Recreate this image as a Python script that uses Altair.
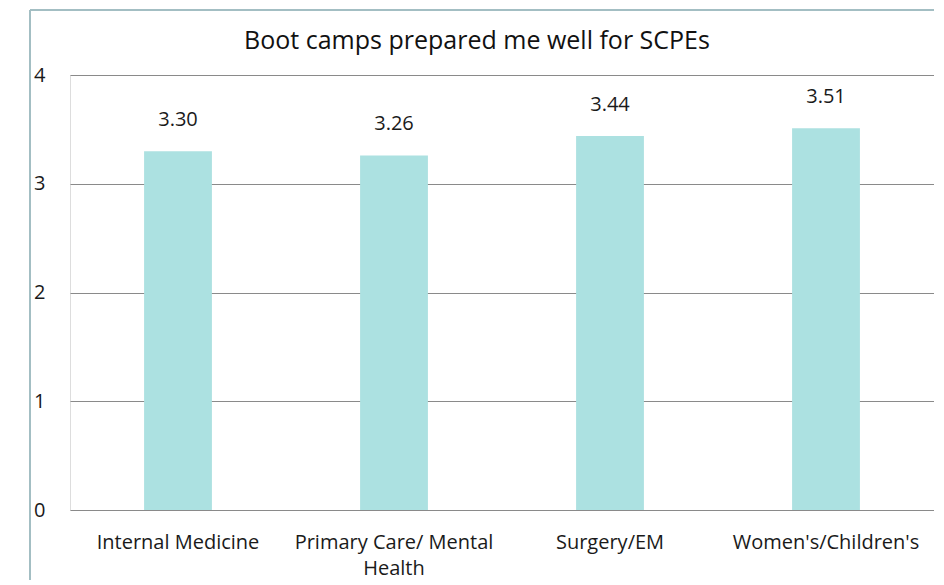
import altair as alt
import pandas as pd

categories = ["Internal Medicine", "Primary Care/ Mental Health", "Surgery/EM", "Women's/Children's"]
values = [3.30, 3.26, 3.44, 3.51]
y_ticks = [0, 1, 2, 3, 4]

df = pd.DataFrame({"category": categories, "value": values})

FONT = "Open Sans"

label_expr = (
    "datum.value == 'Primary Care/ Mental Health' ? ['Primary Care/ Mental', 'Health'] : datum.value"
)

x = alt.X(
    "category:N",
    sort=categories,
    title=None,
    scale=alt.Scale(paddingInner=0.686, paddingOuter=0.343),
    axis=alt.Axis(
        labelAngle=0,
        labelExpr=label_expr,
        labelFont=FONT,
        labelFontSize=20,
        labelColor="#1a1a1a",
        labelPadding=22,
        labelLineHeight=26,
        labelLimit=0,
        ticks=False,
        domain=False,
        grid=False,
    ),
)
y = alt.Y(
    "value:Q",
    title=None,
    scale=alt.Scale(domain=[0, 4], nice=False),
    axis=alt.Axis(
        values=y_ticks,
        format="d",
        labelFont=FONT,
        labelFontSize=20,
        labelColor="#1a1a1a",
        labelPadding=25,
        ticks=False,
        domain=False,
        grid=True,
        gridColor="#8a8a8a",
        gridWidth=1.2,
    ),
)

bars = alt.Chart(df).mark_bar(color="#ACE1E1").encode(x=x, y=y)
text = alt.Chart(df).mark_text(
    dy=-31, font=FONT, fontSize=20, color="#1a1a1a"
).encode(x=alt.X("category:N", sort=categories), y="value:Q", text=alt.Text("value:Q", format=".2f"))

border_color = "#A3BEC3"
left_border = alt.Chart(df).mark_rule(color=border_color, strokeWidth=1.5, clip=False).encode(
    x=alt.value(-40), y=alt.value(-65), y2=alt.value(520)
)
top_border = alt.Chart(df).mark_rule(color=border_color, strokeWidth=1.5, clip=False).encode(
    x=alt.value(-40), x2=alt.value(880), y=alt.value(-65)
)

chart = (
    alt.layer(left_border, top_border, bars, text)
    .properties(
        width=864,
        height=435,
        autosize=alt.AutoSizeParams(type="none"),
        padding={"left": 62, "top": 67, "right": 0, "bottom": 70},
        title=alt.TitleParams(
            "Boot camps prepared me well for SCPEs",
            font=FONT,
            fontSize=25,
            fontWeight="normal",
            color="#111111",
            anchor="middle",
            frame="group",
            offset=-45,
            dx=-25,
        ),
    )
    .configure_view(stroke="#7a7a7a", strokeWidth=1.5)
    .configure(background="white")
)

chart.save("out.html", embed_options={"renderer": "svg", "actions": False})
